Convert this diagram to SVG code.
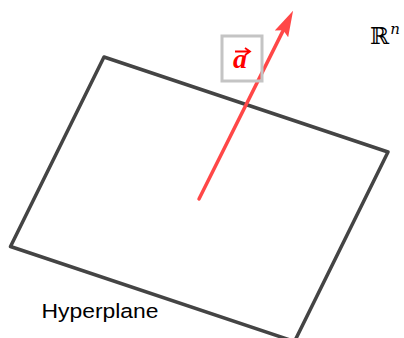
<svg xmlns="http://www.w3.org/2000/svg" width="404" height="338" viewBox="0 0 404 338">
<style>
.plane{fill:none;stroke:#444;stroke-width:3.5;stroke-linejoin:round}
.vec{stroke:#ff4747;stroke-width:3.5;fill:none;stroke-linecap:round}
.lbl{font-family:"Liberation Sans",Arial,sans-serif;font-size:20.5px;fill:#000}
</style>
<defs>
<marker id="ah" viewBox="0 0 26 15" refX="16" refY="7.5" markerWidth="26" markerHeight="15" markerUnits="userSpaceOnUse" orient="auto">
<path d="M0,0 L26,7.5 L0,15 L4,7.5 Z" fill="#ff4747"/>
</marker>
</defs>
<rect width="404" height="338" fill="#fff"/>
<g id="hyperplane">
<polygon class="plane" points="104,57 388,152 294.5,341.5 10.5,246.5"/>
<text class="lbl" x="41.5" y="318" textLength="117" lengthAdjust="spacingAndGlyphs">Hyperplane</text>
</g>
<g id="space">
<text x="370" y="44" font-family="DejaVu Serif,serif" font-size="23" fill="#000">ℝ<tspan font-style="italic" font-size="15" dx="1" dy="-10">n</tspan></text>
</g>
<g id="connectors">
<line class="vec" x1="199" y1="199" x2="288.6" y2="19.6" marker-end="url(#ah)"/>
</g>
<g id="vector-label">
<rect x="222" y="36" width="40" height="45" fill="none" stroke="#c4c4c4" stroke-width="3"/>
<text x="233" y="68" font-family="Liberation Serif,serif" font-style="italic" font-weight="bold" font-size="28" fill="#ff0000">a</text>
<path d="M235,51.5 H249 M245,48 L250,51.5 L245,55" stroke="#ff0000" stroke-width="1.8" fill="none"/>
</g>
</svg>
